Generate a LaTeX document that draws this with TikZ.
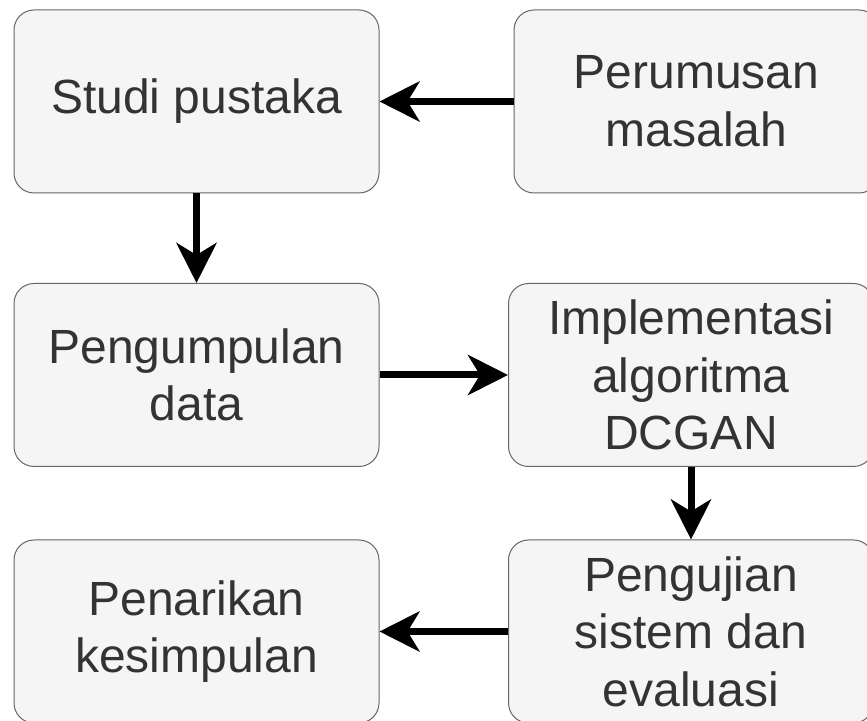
\documentclass[tikz,border=0pt]{standalone}
\usepackage{fontspec}
\setmainfont{Liberation Sans}
\usetikzlibrary{arrows.meta}
\definecolor{boxfill}{HTML}{F5F5F5}
\definecolor{boxline}{HTML}{666666}
\definecolor{boxtext}{HTML}{333333}
\begin{document}
\begin{tikzpicture}[x=1pt,y=1pt,
    proses/.style ={rectangle, rounded corners=20pt, draw=boxline, fill=boxfill,
      line width=1pt, minimum width=365pt, minimum height=183pt, inner sep=0pt,
      align=center, text=boxtext, font=\fontsize{48}{57.6}\selectfont},
    panah/.style ={line width=7pt, -{Stealth[length=40pt,width=40pt,inset=12pt]}}]
   \clip (0,0) rectangle (867,720);
   \fill[white] (0,0) rectangle (867,720);

   \node[proses] (A) at (196.5,618.5) {Studi pustaka};
   \node[proses] (B) at (696.5,618.5) {Perumusan\\masalah};
   \node[proses] (C) at (196.5,345)   {Pengumpulan\\data};
   \node[proses] (D) at (691,345)     {Implementasi\\algoritma\\DCGAN};
   \node[proses] (E) at (196.5,88.5)  {Penarikan\\kesimpulan};
   \node[proses] (F) at (691,88.5)    {Pengujian\\sistem dan\\evaluasi};

   \draw[panah] (B) to (A);
   \draw[panah] (A) to (C);
   \draw[panah] (C) to (D);
   \draw[panah] (D) to (F);
   \draw[panah] (F) to (E);
\end{tikzpicture}
\end{document}
